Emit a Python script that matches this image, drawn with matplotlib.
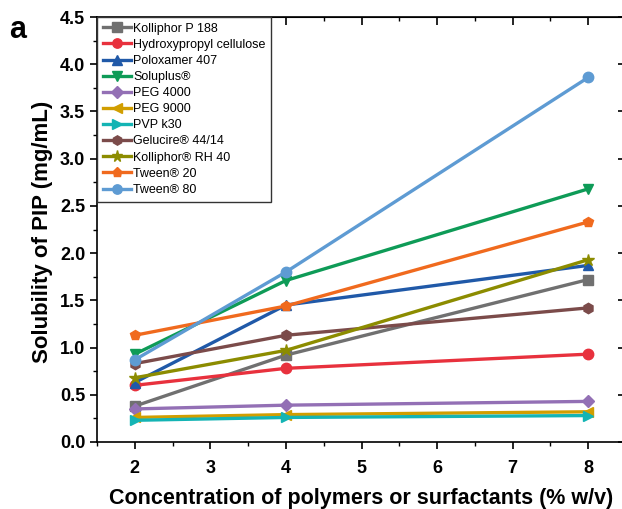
import numpy as np
import matplotlib
matplotlib.use("Agg")
import matplotlib.pyplot as plt
from matplotlib.ticker import MultipleLocator

plt.rcParams['font.family'] = ['Liberation Sans', 'DejaVu Sans']

conc = [2, 4, 8]
names = ["Kolliphor P 188", "Hydroxypropyl cellulose", "Poloxamer 407", "Soluplus®",
         "PEG 4000", "PEG 9000", "PVP k30", "Gelucire® 44/14", "Kolliphor® RH 40",
         "Tween® 20", "Tween® 80"]
kolliphor_p188 = [0.38, 0.92, 1.72]
hpc = [0.60, 0.78, 0.93]
poloxamer_407 = [0.63, 1.45, 1.87]
soluplus = [0.93, 1.71, 2.68]
peg_4000 = [0.35, 0.39, 0.43]
peg_9000 = [0.26, 0.29, 0.32]
pvp_k30 = [0.23, 0.26, 0.28]
gelucire = [0.83, 1.13, 1.42]
kolliphor_rh40 = [0.68, 0.97, 1.93]
tween_20 = [1.13, 1.44, 2.33]
tween_80 = [0.87, 1.80, 3.86]
series = [kolliphor_p188, hpc, poloxamer_407, soluplus, peg_4000, peg_9000,
          pvp_k30, gelucire, kolliphor_rh40, tween_20, tween_80]

colors = ["#707070", "#E8313D", "#2059A8", "#0E9B57", "#9370B5", "#D19E00",
          "#14B4B4", "#7B4B4A", "#8C8C00", "#F06A1E", "#5E9BD3"]
markers = ["s", "o", "^", "v", "D", "<", ">", "h", "*", "p", "o"]
msizes = [7.5, 7.5, 7.5, 7.5, 6.5, 7.5, 7.5, 7.5, 9, 7.5, 7.5]

fig = plt.figure(figsize=(6.22, 5.09), dpi=100)
ax = fig.add_axes([97 / 622, 67 / 509, (626 - 97) / 622, (442 - 17) / 509])

for y, name, c, m, ms in zip(series, names, colors, markers, msizes):
    ax.plot(conc, y, color=c, marker=m, markersize=ms, linewidth=2.4, label=name)

ax.set_xlim(1.5, 8.5)
ax.set_ylim(0, 4.5)
ax.set_xticks([2, 3, 4, 5, 6, 7, 8])
ax.xaxis.set_minor_locator(MultipleLocator(0.5))
ax.yaxis.set_major_locator(MultipleLocator(0.5))
ax.yaxis.set_minor_locator(MultipleLocator(0.25))
ax.yaxis.set_major_formatter(matplotlib.ticker.FormatStrFormatter('%.1f'))

for s in ax.spines.values():
    s.set_linewidth(1.2)
ax.tick_params(which='major', direction='out', length=5, width=1.2,
               labelsize=13, top=False, right=False)
ax.tick_params(which='minor', direction='out', length=3, width=1.0,
               top=False, right=False)
ax.tick_params(axis='x', which='major', pad=8)
for lab in ax.get_xticklabels() + ax.get_yticklabels():
    lab.set_fontweight('bold')

# mirrored inward ticks on top and right
axt = ax.secondary_xaxis('top')
axt.set_xticks([2, 3, 4, 5, 6, 7, 8])
axt.xaxis.set_minor_locator(MultipleLocator(0.5))
axt.tick_params(which='major', direction='in', length=6, width=1.2, labeltop=False)
axt.tick_params(which='minor', direction='in', length=3, width=1.0)
axr = ax.secondary_yaxis('right')
axr.yaxis.set_major_locator(MultipleLocator(0.5))
axr.yaxis.set_minor_locator(MultipleLocator(0.25))
axr.tick_params(which='major', direction='in', length=6, width=1.2, labelright=False)
axr.tick_params(which='minor', direction='in', length=3, width=1.0)

ax.set_xlabel("Concentration of polymers or surfactants (% w/v)", fontsize=15.5,
              fontweight='bold', labelpad=8)
ax.set_ylabel("Solubility of PIP (mg/mL)", fontsize=16, fontweight='bold')
ax.yaxis.set_label_coords(-0.083, 0.495)

leg = ax.legend(loc='upper left', borderaxespad=0, fontsize=9, handlelength=2.3,
                handletextpad=0.15, labelspacing=0.33, fancybox=False,
                borderpad=0.45, framealpha=1, markerscale=0.9)
leg.get_frame().set_edgecolor('#333333')
leg.get_frame().set_linewidth(1.0)

fig.text(0.015, 0.925, "a", fontsize=22, fontweight='bold')

fig.savefig("out.png", dpi=100)
